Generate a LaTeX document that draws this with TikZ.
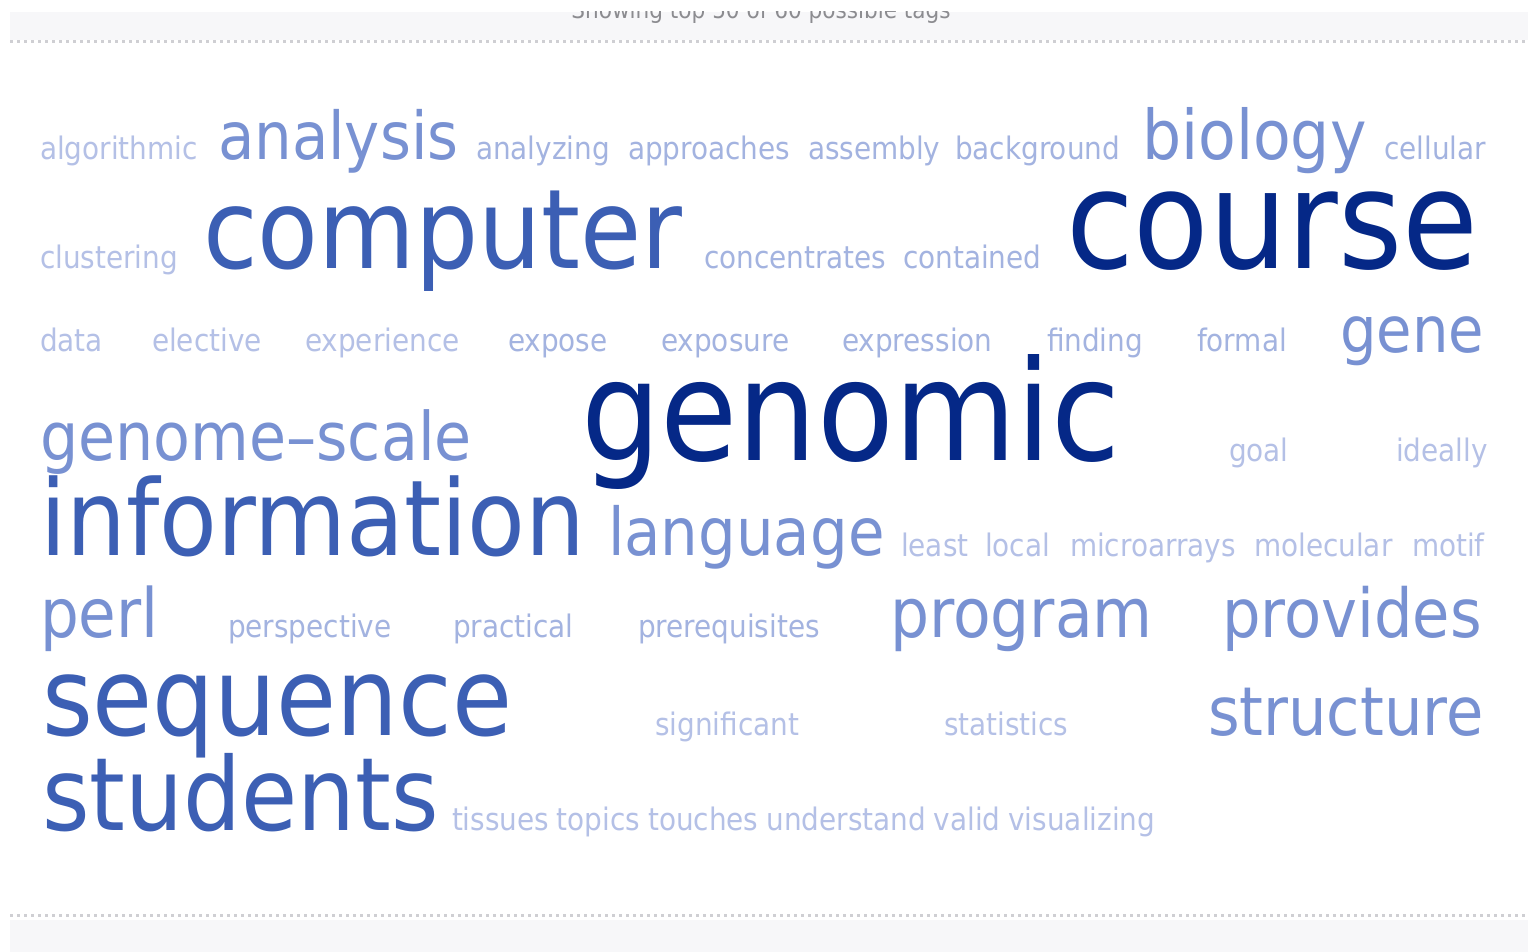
\documentclass[tikz,border=0pt]{standalone}
\usepackage{fontspec}
\usetikzlibrary{positioning}
\newfontfamily\tagfont[FakeStretch=0.9]{DejaVu Sans}

\definecolor{tagxl}{HTML}{052887}
\definecolor{taglg}{HTML}{3C5FB4}
\definecolor{tagmd}{HTML}{7891D2}
\definecolor{tagxs}{HTML}{A3B3E0}
\definecolor{tagfaint}{HTML}{B4C0E6}
\definecolor{panel}{HTML}{F7F7F9}
\definecolor{rule}{HTML}{CFCFD3}
\definecolor{header}{HTML}{8C8C90}

\tikzset{
  tag/.style={anchor=base west, inner sep=0pt, outer sep=0pt},
  tagxl/.style={tag, text=tagxl, font=\tagfont\fontsize{#1}{#1}\selectfont},
  tagxl/.default=137,
  taglg/.style={tag, text=taglg, font=\tagfont\fontsize{#1}{#1}\selectfont},
  taglg/.default=105,
  tagmd/.style={tag, text=tagmd, font=\tagfont\fontsize{#1}{#1}\selectfont},
  tagmd/.default=66,
  tagxs/.style={tag, text=tagxs, font=\tagfont\fontsize{31}{31}\selectfont},
  tagfaint/.style={tagxs, text=tagfaint},
  dotrule/.style={rule, line width=3pt, dash pattern=on 3pt off 4pt},
}

\begin{document}
\begin{tikzpicture}[x=1pt, y=-1pt]
    \useasboundingbox (0,0) rectangle (1528,952);
    \fill[white] (0,0) rectangle (1528,952);

    % header and footer strips
    \fill[panel] (10,12) rectangle (1528,40);
    \fill[panel] (10,920) rectangle (1528,952);
    \begin{scope}
      \clip (10,12) rectangle (1528,40);
      \node[anchor=base, inner sep=0pt, text=header, font=\tagfont\fontsize{24}{24}\selectfont] (showing) at (761,19) {Showing top 50 of 60 possible tags};
    \end{scope}
    \draw[dotrule] (10,42) -- (1528,42);
    \draw[dotrule] (10,915) -- (1528,915);

    % row 1
    \node[tagfaint] (algorithmic)  at (40,160)   {algorithmic};
    \node[tagmd]    (analysis)     at (218,160)  {analysis};
    \node[tagxs]    (analyzing)    at (476,160)  {analyzing};
    \node[tagxs]    (approaches)   at (628,160)  {approaches};
    \node[tagxs]    (assembly)     at (808,160)  {assembly};
    \node[tagxs]    (background)   at (955,160)  {background};
    \node[tagmd=68.5] (biology)    at (1142,160) {biology};
    \node[tagxs]    (cellular)     at (1384,160) {cellular};

    % row 2
    \node[tagfaint] (clustering)   at (40,268)   {clustering};
    \node[taglg=110.5] (computer)  at (203,268)  {computer};
    \node[tagxs]    (concentrates) at (704,268)  {concentrates};
    \node[tagxs]    (contained)    at (903,268)  {contained};
    \node[tagxl]    (course)       at (1066,268) {course};

    % row 3
    \node[tagfaint] (data)         at (40,351)   {data};
    \node[tagfaint] (elective)     at (152,351)  {elective};
    \node[tagfaint] (experience)   at (305,351)  {experience};
    \node[tagxs]    (expose)       at (508,351)  {expose};
    \node[tagxs]    (exposure)     at (661,351)  {exposure};
    \node[tagxs]    (expression)   at (842,351)  {expression};
    \node[tagxs]    (finding)      at (1047,351) {finding};
    \node[tagxs]    (formal)       at (1197,351) {formal};
    \node[tagmd=64] (gene)         at (1340,352) {gene};

    % row 4
    \node[tagmd=67] (genomescale)  at (40,460)   {genome–scale};
    \node[tagxl=139.5] (genomic)   at (581,460)  {genomic};
    \node[tagfaint] (goal)         at (1229,461) {goal};
    \node[tagfaint] (ideally)      at (1396,461) {ideally};

    % row 5
    \node[taglg]    (information)  at (40,555)   {information};
    \node[tagmd]    (language)     at (608,555)  {language};
    \node[tagfaint] (least)        at (901,556)  {least};
    \node[tagfaint] (local)        at (985,556)  {local};
    \node[tagfaint] (microarrays)  at (1070,556) {microarrays};
    \node[tagfaint] (molecular)    at (1254,556) {molecular};
    \node[tagfaint] (motif)        at (1412,556) {motif};

    % row 6
    \node[tagmd=68] (perl)         at (40,637)   {perl};
    \node[tagxs]    (perspective)  at (228,637)  {perspective};
    \node[tagxs]    (practical)    at (453,637)  {practical};
    \node[tagxs]    (prerequisites) at (638,637) {prerequisites};
    \node[tagmd=68.4] (program)    at (890,637)  {program};
    \node[tagmd=67.5] (provides)   at (1222,637) {provides};

    % row 7
    \node[taglg=108.5] (sequence)  at (42,735)   {sequence};
    \node[tagfaint] (significant)  at (655,735)  {significant};
    \node[tagfaint] (statistics)   at (944,735)  {statistics};
    \node[tagmd=67.5] (structure)  at (1208,735) {structure};

    % row 8
    \node[taglg=101.5] (students)  at (42,830)   {students};
    \node[tagfaint] (tissues)      at (452,830)  {tissues};
    \node[tagfaint, base right=7.8pt of tissues]    (topics)      {topics};
    \node[tagfaint, base right=7.8pt of topics]     (touches)     {touches};
    \node[tagfaint, base right=7.8pt of touches]    (understand)  {understand};
    \node[tagfaint, base right=7.8pt of understand] (valid)       {valid};
    \node[tagfaint, base right=7.8pt of valid]      (visualizing) {visualizing};
\end{tikzpicture}
\end{document}
